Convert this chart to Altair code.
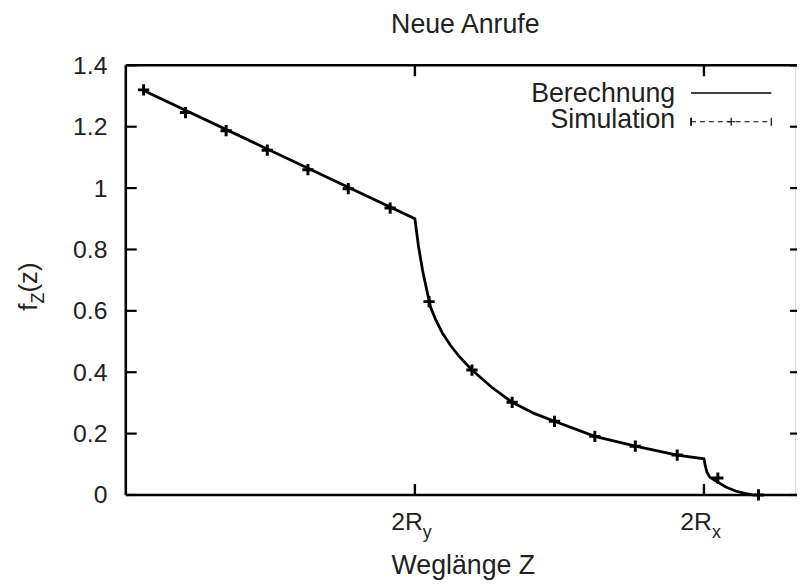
import altair as alt
import pandas as pd

# ---------------- data ----------------
# x axis in units of R_y  (2R_y = 2, 2R_x = 4)
calc_z = [0.123, 2.0, 2.024, 2.053, 2.087, 2.110, 2.144, 2.190, 2.247, 2.303,
          2.395, 2.532, 2.673, 2.829, 2.966, 3.245, 3.525, 3.815, 4.0, 4.010,
          4.021, 4.041, 4.096, 4.151, 4.219, 4.281, 4.336]
calc_f = [1.318, 0.900, 0.813, 0.732, 0.657, 0.610, 0.571, 0.528, 0.487, 0.453,
          0.407, 0.351, 0.302, 0.265, 0.240, 0.191, 0.159, 0.130, 0.118, 0.094,
          0.074, 0.058, 0.042, 0.026, 0.013, 0.005, 0.0]

sim_z = [0.123, 0.413, 0.694, 0.979, 1.260, 1.539, 1.829, 2.098, 2.395, 2.673,
         2.966, 3.245, 3.525, 3.815, 4.096, 4.377]
sim_f = [1.320, 1.246, 1.187, 1.1235, 1.060, 0.998, 0.935, 0.630, 0.407, 0.302,
         0.240, 0.191, 0.159, 0.130, 0.055, 0.0]

y_tick_values = [0, 0.2, 0.4, 0.6, 0.8, 1, 1.2, 1.4]
x_tick_values = [2, 4]
x_tick_main = ["2R", "2R"]
x_tick_sub = ["y", "x"]

title_text = "Neue Anrufe"
x_title = "Weglänge Z"
legend_labels = ["Berechnung", "Simulation"]

# ---------------- layout ----------------
W, H = 676, 434
X_DOMAIN = [0, 4.63]
Y_DOMAIN = [0, 1.4]
FONT = "Liberation Sans"
TXT = "#222222"

xs = alt.Scale(domain=X_DOMAIN, nice=False, zero=False)
ys = alt.Scale(domain=Y_DOMAIN, nice=False, zero=False)
y_axis = alt.Axis(domain=False, ticks=False, tickSize=0, grid=False,
                  values=y_tick_values, labelExpr="format(datum.value, '~g')",
                  labelFont=FONT, labelFontSize=25, labelColor=TXT,
                  labelPadding=19, title=None)

calc_df = pd.DataFrame({"z": calc_z, "f": calc_f})
sim_df = pd.DataFrame({"z": sim_z, "f": sim_f})
ytick_df = pd.DataFrame({"v": y_tick_values})
xtick_df = pd.DataFrame({"v": x_tick_values, "main": x_tick_main, "sub": x_tick_sub})
one = pd.DataFrame({"a": [0]})

X = lambda f: alt.X(f, type="quantitative", scale=xs, axis=None)
Y = lambda f: alt.Y(f, type="quantitative", scale=ys, axis=y_axis)

layers = []

# frame (right side falls outside the picture)
frame = alt.Chart(one).mark_rule(color="black", strokeWidth=2.6)
layers += [
    frame.encode(x=alt.value(0), x2=alt.value(W + 4), y=alt.value(0)),
    frame.encode(x=alt.value(0), x2=alt.value(W + 4), y=alt.value(H)),
    frame.encode(x=alt.value(0), y=alt.value(0), y2=alt.value(H)),
]

# inward ticks
tick = alt.Chart(ytick_df).mark_rule(color="black", strokeWidth=2.2)
layers += [
    tick.encode(y=Y("v"), x=alt.value(0), x2=alt.value(11)),
    tick.encode(y=Y("v"), x=alt.value(671), x2=alt.value(W + 4)),
]
xtick = alt.Chart(xtick_df).mark_rule(color="black", strokeWidth=2.4)
layers += [
    xtick.encode(x=X("v"), y=alt.value(H), y2=alt.value(H - 11)),
    xtick.encode(x=X("v"), y=alt.value(0), y2=alt.value(11)),
]

# x tick labels with subscripts
layers += [
    alt.Chart(xtick_df).mark_text(align="right", baseline="alphabetic", dx=8,
                                  font=FONT, fontSize=25, color=TXT)
    .encode(x=X("v"), y=alt.value(469), text="main:N"),
    alt.Chart(xtick_df).mark_text(align="left", baseline="alphabetic", dx=8,
                                  font=FONT, fontSize=18, color=TXT)
    .encode(x=X("v"), y=alt.value(477), text="sub:N"),
]

# calculation curve and simulation points
layers += [
    alt.Chart(calc_df).mark_line(color="black", strokeWidth=2.8)
    .encode(x=X("z"), y=Y("f")),
    alt.Chart(sim_df).mark_point(shape="M-1,0L1,0M0,-1L0,1", filled=False,
                                 color="black", strokeWidth=3, size=130, opacity=1)
    .encode(x=X("z"), y=Y("f")),
]

# texts: title, x title, y title (f_Z(z))
def txt(s, x, y, size=27, align="center", angle=0):
    kw = dict(align=align, baseline="alphabetic", font=FONT, fontSize=size, color=TXT)
    if angle:
        kw["angle"] = angle
    return alt.Chart(one).mark_text(**kw).encode(
        x=alt.value(x), y=alt.value(y), text=alt.value(s))

layers += [
    txt(title_text, 343, -33),
    txt(x_title, 341, 514),
    txt("f", -90, 248, size=26, align="left", angle=270),
    txt("Z", -83, 240.5, size=18, align="left", angle=270),
    txt("(z)", -90, 229.5, size=26, align="left", angle=270),
]

# legend
layers += [
    txt(legend_labels[0], 555, 37, align="right"),
    txt(legend_labels[1], 555, 63.5, align="right"),
    alt.Chart(one).mark_rule(color="black", strokeWidth=1.6)
    .encode(x=alt.value(571), x2=alt.value(652), y=alt.value(28)),
    alt.Chart(one).mark_rule(color="black", strokeWidth=1.2, strokeDash=[5, 4])
    .encode(x=alt.value(571), x2=alt.value(652), y=alt.value(57)),
    alt.Chart(one).mark_rule(color="black", strokeWidth=1.8)
    .encode(x=alt.value(571), y=alt.value(53), y2=alt.value(61)),
    alt.Chart(one).mark_rule(color="black", strokeWidth=1.2)
    .encode(x=alt.value(652), y=alt.value(53), y2=alt.value(61)),
    alt.Chart(one).mark_point(shape="M-1,0L1,0M0,-1L0,1", filled=False,
                              color="black", strokeWidth=1.2, size=64, opacity=1)
    .encode(x=alt.value(611.5), y=alt.value(57)),
]

chart = alt.layer(*layers).properties(
    width=W, height=H,
    autosize=alt.AutoSizeParams(type="none"),
    padding={"left": 119, "top": 55, "right": 2, "bottom": 86},
).configure_view(strokeWidth=0).configure(background="white")

chart.save("out.html", embed_options={"renderer": "svg", "actions": False})
